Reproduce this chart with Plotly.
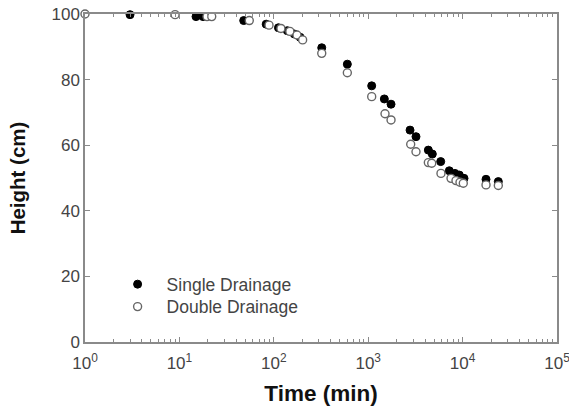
import plotly.graph_objects as go

# Data
single_time = [3, 15, 17.8, 48, 83, 112, 139, 165, 190, 322, 601, 1089, 1482, 1745,
               2775, 3208, 4335, 4778, 5863, 7230, 8300, 9230, 10350, 17700, 23900]
single_height = [99.8, 99.2, 99.2, 98.0, 96.9, 95.8, 94.9, 93.9, 92.9, 89.7, 84.7, 78.1, 74.1, 72.5,
                 64.6, 62.6, 58.5, 57.3, 55.0, 52.2, 51.4, 50.9, 49.9, 49.6, 48.9]

double_time = [1, 9, 19.6, 22, 55, 89, 119, 148, 176, 202, 322, 601, 1089, 1507, 1745,
               2820, 3208, 4335, 4708, 5900, 7540, 8510, 9380, 10170, 17700, 23900]
double_height = [100, 99.8, 99.2, 99.2, 98.0, 96.6, 95.6, 94.7, 93.6, 92.1, 88.0, 82.1, 74.8, 69.6, 67.7,
                 60.3, 58.0, 54.7, 54.5, 51.4, 49.9, 49.2, 48.7, 48.4, 47.9, 47.7]

x_tickvals = [1, 10, 100, 1000, 10000, 100000]
x_ticktext = ["10<sup>0</sup>", "10<sup>1</sup>", "10<sup>2</sup>", "10<sup>3</sup>",
              "10<sup>4</sup>", "10<sup>5</sup>"]
y_tickvals = [0, 20, 40, 60, 80, 100]

FONT = "Liberation Sans, Arial, sans-serif"
AXIS_COL = "#8a8a8a"
TXT_COL = "#444444"

fig = go.Figure()
fig.add_trace(go.Scatter(
    x=single_time, y=single_height, mode="markers", name="Single Drainage",
    cliponaxis=False, legend="legend",
    marker=dict(symbol="circle", size=8, color="black", line=dict(color="black", width=1)),
))
fig.add_trace(go.Scatter(
    x=double_time, y=double_height, mode="markers", name="Double Drainage",
    cliponaxis=False, legend="legend2",
    marker=dict(symbol="circle", size=8, color="white", line=dict(color="#666666", width=1.4)),
))

legend_common = dict(
    xanchor="left", yanchor="middle",
    bgcolor="rgba(0,0,0,0)", borderwidth=0,
    font=dict(size=17.5, color=TXT_COL, family=FONT),
    itemwidth=48,
)

fig.update_layout(
    width=569, height=406,
    margin=dict(l=85, r=12, t=14, b=64),
    paper_bgcolor="white", plot_bgcolor="white",
    font=dict(family=FONT, size=17, color=TXT_COL),
    showlegend=True,
    legend=dict(x=0.05, y=0.176, **legend_common),
    legend2=dict(x=0.05, y=0.1076, **legend_common),
    xaxis=dict(
        type="log", range=[0, 5], automargin=False,
        tickvals=x_tickvals, ticktext=x_ticktext,
        ticks="inside", ticklen=5, tickcolor=AXIS_COL, tickwidth=1,
        minor=dict(ticks="inside", ticklen=3, tickcolor=AXIS_COL, tickwidth=1,
                   tickvals=[m * 10 ** e for e in range(0, 5) for m in range(2, 10)]),
        showline=True, linecolor=AXIS_COL, linewidth=1.5, mirror="ticks",
        showgrid=False, zeroline=False,
        ticklabelstandoff=5, ticklabeloverflow="allow",
        tickfont=dict(size=17, color=TXT_COL),
        title=dict(text="<b>Time (min)</b>", font=dict(size=22.5, color="#111111"), standoff=28),
    ),
    yaxis=dict(
        range=[0, 100], tickvals=y_tickvals, automargin=False,
        ticks="inside", ticklen=5, tickcolor=AXIS_COL, tickwidth=1,
        showline=True, linecolor=AXIS_COL, linewidth=1.5, mirror="ticks",
        showgrid=False, zeroline=False,
        tickfont=dict(size=17, color=TXT_COL),
        title=dict(text="<b>Height (cm)</b>", font=dict(size=20.5, color="#111111"), standoff=20),
    ),
)

fig.write_html("out.html")
